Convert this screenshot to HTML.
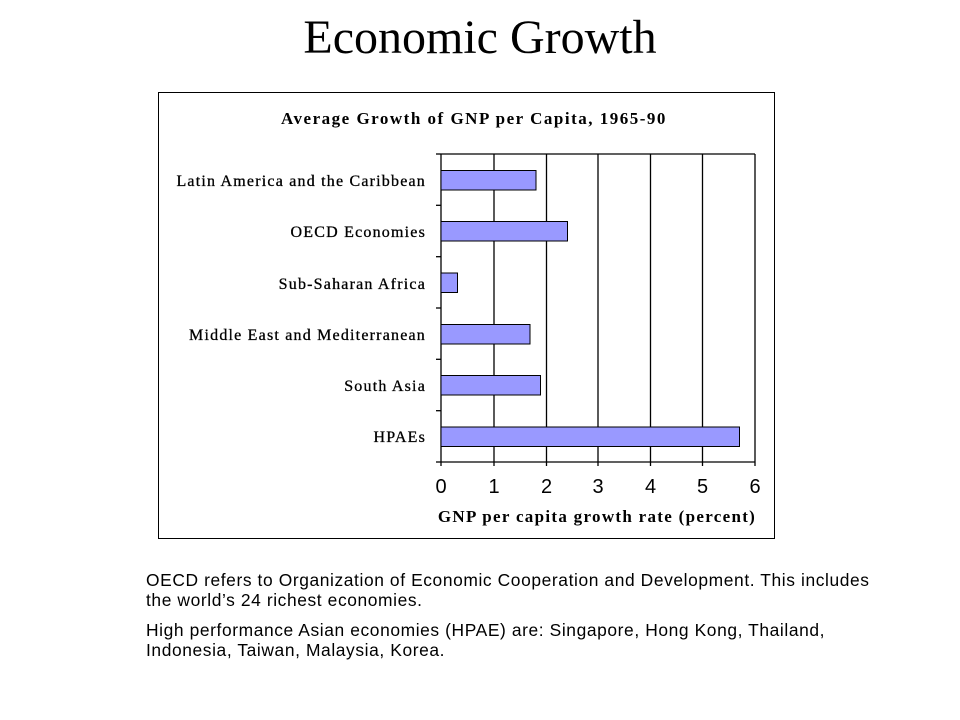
<!DOCTYPE html>
<html><head><meta charset="utf-8"><style>
body{margin:0;width:960px;height:720px;background:#fff;overflow:hidden;position:relative;font-family:"Liberation Sans",sans-serif}
.t{position:absolute;left:0;width:960px;top:10px;text-align:center;font-family:"Liberation Serif",serif;font-size:48px;color:#000}
.p{position:absolute;left:146px;font-size:17.4px;letter-spacing:0.6px;line-height:20px;color:#000;width:790px;white-space:nowrap}
</style></head><body>
<div class="t">Economic Growth</div>
<svg style="position:absolute;left:0;top:0" width="960" height="720">
<rect x="158.5" y="92.5" width="616" height="446" fill="#fff" stroke="#000" stroke-width="1"/>
<text x="474" y="124" text-anchor="middle" font-family="Liberation Serif" font-weight="bold" font-size="17" letter-spacing="1.5">Average Growth of GNP per Capita, 1965-90</text>
<g stroke="#000" stroke-width="1.3" fill="none">
<line x1="441" y1="154" x2="755" y2="154"/>
<line x1="441" y1="154" x2="441" y2="462"/>
<line x1="441" y1="462" x2="755" y2="462"/>
<line x1="494" y1="154" x2="494" y2="466"/>
<line x1="546.5" y1="154" x2="546.5" y2="466"/>
<line x1="598" y1="154" x2="598" y2="466"/>
<line x1="650.5" y1="154" x2="650.5" y2="466"/>
<line x1="702.5" y1="154" x2="702.5" y2="466"/>
<line x1="755" y1="154" x2="755" y2="466"/>
<line x1="441" y1="462" x2="441" y2="466"/>
<line x1="436" y1="154" x2="441" y2="154"/>
<line x1="436" y1="205.3" x2="441" y2="205.3"/>
<line x1="436" y1="256.7" x2="441" y2="256.7"/>
<line x1="436" y1="308" x2="441" y2="308"/>
<line x1="436" y1="359.3" x2="441" y2="359.3"/>
<line x1="436" y1="410.7" x2="441" y2="410.7"/>
<line x1="436" y1="462" x2="441" y2="462"/>
</g>
<g fill="#9999ff" stroke="#000" stroke-width="1">
<rect x="441" y="170.5" width="95" height="19.5"/>
<rect x="441" y="221.5" width="126.5" height="19.5"/>
<rect x="441" y="273" width="16.5" height="19.5"/>
<rect x="441" y="324.5" width="89" height="19.5"/>
<rect x="441" y="375.5" width="99.5" height="19.5"/>
<rect x="441" y="427" width="298.5" height="19.5"/>
</g>
<g font-family="Liberation Serif" font-size="16" text-anchor="end" letter-spacing="1.2" stroke="#000" stroke-width="0.3">
<text x="426" y="186">Latin America and the Caribbean</text>
<text x="426" y="237">OECD Economies</text>
<text x="426" y="289">Sub-Saharan Africa</text>
<text x="426" y="340">Middle East and Mediterranean</text>
<text x="426" y="391">South Asia</text>
<text x="426" y="442">HPAEs</text>
</g>
<g font-family="Liberation Sans" font-size="20" text-anchor="middle">
<text x="441" y="493">0</text><text x="494" y="493">1</text><text x="546.5" y="493">2</text>
<text x="598" y="493">3</text><text x="650.5" y="493">4</text><text x="702.5" y="493">5</text><text x="755" y="493">6</text>
</g>
<text x="597" y="522" text-anchor="middle" font-family="Liberation Serif" font-weight="bold" font-size="17" letter-spacing="1.3">GNP per capita growth rate  (percent)</text>
</svg>
<div class="p" style="top:570px">OECD refers to Organization of Economic Cooperation and Development. This includes<br>the world’s 24 richest economies.</div>
<div class="p" style="top:620px">High performance Asian economies (HPAE) are: Singapore, Hong Kong, Thailand,<br>Indonesia, Taiwan, Malaysia, Korea.</div>
</body></html>
